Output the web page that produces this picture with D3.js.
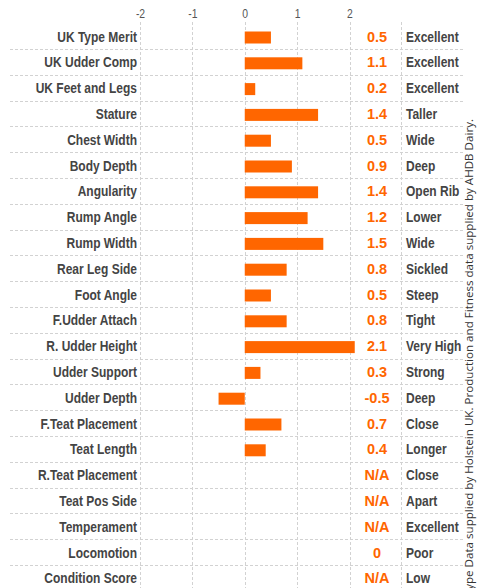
<!DOCTYPE html>
<html>
<head>
<meta charset="utf-8">
<script src="https://cdn.jsdelivr.net/npm/d3@7"></script>
<style>
  body { margin: 0; background: #fff; }
  svg { display: block; }
</style>
</head>
<body>
<svg id="chart" width="489" height="588"></svg>
<script>
// === DATA ===
const traits = ["UK Type Merit", "UK Udder Comp", "UK Feet and Legs", "Stature", "Chest Width",
  "Body Depth", "Angularity", "Rump Angle", "Rump Width", "Rear Leg Side", "Foot Angle",
  "F.Udder Attach", "R. Udder Height", "Udder Support", "Udder Depth", "F.Teat Placement",
  "Teat Length", "R.Teat Placement", "Teat Pos Side", "Temperament", "Locomotion", "Condition Score"];
// null = N/A
const values = [0.5, 1.1, 0.2, 1.4, 0.5, 0.9, 1.4, 1.2, 1.5, 0.8, 0.5, 0.8, 2.1, 0.3, -0.5, 0.7, 0.4,
  null, null, null, 0, null];
const descriptors = ["Excellent", "Excellent", "Excellent", "Taller", "Wide", "Deep", "Open Rib",
  "Lower", "Wide", "Sickled", "Steep", "Tight", "Very High", "Strong", "Deep", "Close", "Longer",
  "Close", "Apart", "Excellent", "Poor", "Low"];
const tickValues = [-2, -1, 0, 1, 2];
const footnote = "Type Data supplied by Holstein UK. Production and Fitness data supplied by AHDB Dairy.";

// === SETUP ===
const svg = d3.select("#chart");
const orange = "#ff6600";
const font = "'Liberation Sans', Arial, sans-serif";
const squeeze = 0.8; // fake a condensed face

const x = d3.scaleLinear().domain([-2, 2]).range([140, 349.5]);
const y = d3.scaleBand().domain(traits).range([23.1, 23.1 + 25.8 * traits.length]).padding(0);
const mid = d => y(d) + y.bandwidth() / 2;

const rows = traits.map((t, i) => ({ trait: t, value: values[i], desc: descriptors[i] }));

// grid lines
const grid = svg.append("g").attr("stroke", "#d2d2d2").attr("stroke-dasharray", "3,2").attr("stroke-width", 1);
grid.selectAll(".hline")
  .data(traits.slice(0, -1))
  .enter().append("line")
  .attr("x1", 10).attr("x2", 465)
  .attr("y1", d => Math.round(y(d) + y.bandwidth()) + 0.5)
  .attr("y2", d => Math.round(y(d) + y.bandwidth()) + 0.5);
grid.selectAll(".vline")
  .data(tickValues.map(v => x(v)).concat([401]))
  .enter().append("line")
  .attr("x1", d => Math.round(d) + 0.5).attr("x2", d => Math.round(d) + 0.5)
  .attr("y1", 22).attr("y2", 588);

// top axis
const axis = svg.append("g")
  .attr("transform", "translate(0,18)")
  .call(d3.axisTop(x).tickValues(tickValues).tickSize(0).tickPadding(0).tickFormat(d => String(d)));
axis.select(".domain").remove();
axis.selectAll("text")
  .attr("fill", "#555")
  .attr("font-family", font)
  .attr("font-size", 13)
  .attr("transform", `scale(${squeeze},1)`)
  .attr("x", function (d) { return 0; });
axis.selectAll(".tick text").attr("dx", 0);

// bars
svg.append("g").selectAll("rect")
  .data(rows.filter(d => d.value !== null && d.value !== 0))
  .enter().append("rect")
  .attr("x", d => x(Math.min(0, d.value)))
  .attr("width", d => Math.abs(x(d.value) - x(0)))
  .attr("y", d => mid(d.trait) - 4.5)
  .attr("height", 12)
  .attr("fill", orange);

// squeezed text helper
function addColumn(xPos, anchor, color, weight, size, sx, fmt) {
  svg.append("g").selectAll("g")
    .data(rows)
    .enter().append("g")
    .attr("transform", d => `translate(${xPos},${mid(d.trait) + 5.5}) scale(${sx},1)`)
    .append("text")
    .attr("text-anchor", anchor)
    .attr("font-family", font)
    .attr("font-weight", weight)
    .attr("font-size", size)
    .attr("fill", color)
    .text(fmt);
}

addColumn(137, "end", "#444", "bold", 15, squeeze, d => d.trait);
addColumn(377, "middle", orange, "bold", 14.5, 1, d => d.value === null ? "N/A" : d.value);
addColumn(406, "start", "#444", "bold", 15, squeeze, d => d.desc);

// rotated footnote
svg.append("text")
  .attr("transform", "translate(473,119) rotate(-90)")
  .attr("text-anchor", "end")
  .attr("font-family", "'Open Sans', sans-serif")
  .attr("font-size", 11.6)
  .attr("fill", "#333")
  .text(footnote);
</script>
</body>
</html>
